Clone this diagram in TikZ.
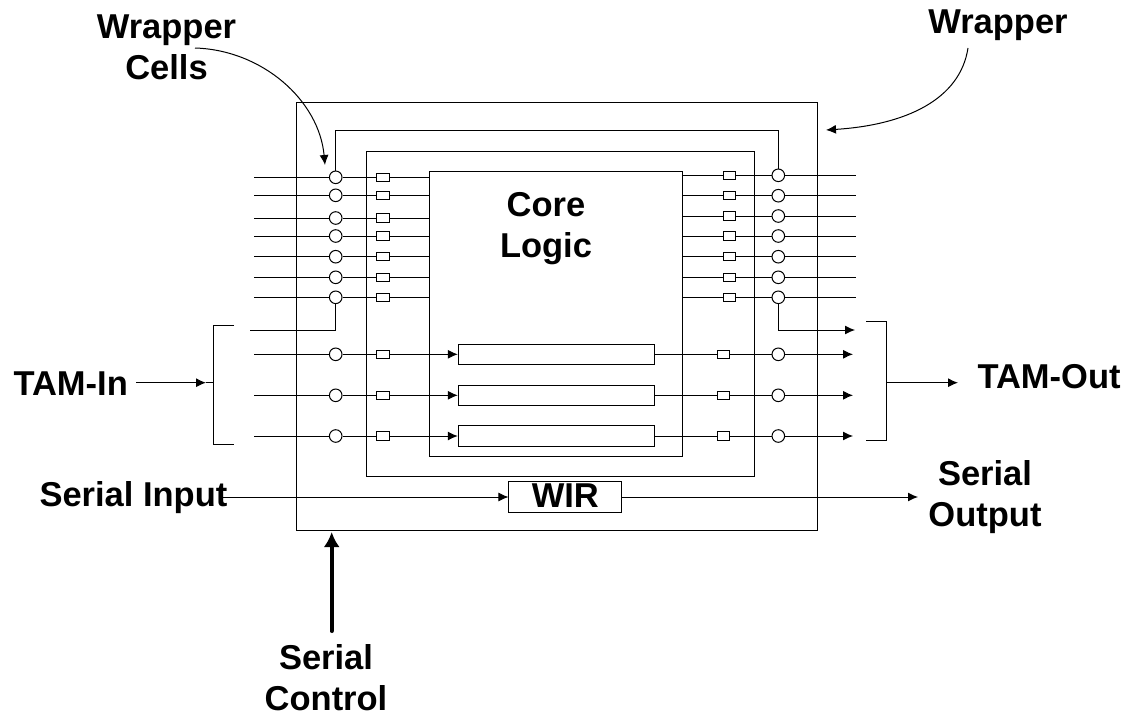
\documentclass[tikz,border=0pt]{standalone}
\usepackage{fontspec}
\setmainfont{Liberation Sans}
\usetikzlibrary{arrows.meta}

\tikzset{
	cellnode/.style={draw,circle,inner sep=0pt,minimum size=12.6pt},
	latchnode/.style={draw,fill=white,inner sep=0pt,minimum width=12.6pt,minimum height=8.4pt},
	blocknode/.style={draw,inner sep=0pt},
	scannode/.style={blocknode,minimum width=196pt,minimum height=20.6pt},
	labelnode/.style={font=\bfseries\fontsize{34.5}{41}\selectfont,inner sep=0pt,align=center},
	sig/.style={-{Latex[length=10pt,width=9pt]}},
}

\begin{document}
\begin{tikzpicture}[x=1pt,y=-1pt,line width=1pt]
	\useasboundingbox (0,0) rectangle (1124,715);
	% nested boxes
	\node[blocknode,minimum width=521pt,minimum height=428pt] at (556.5,316) (wrapper) {};
	\node[blocknode,minimum width=388.7pt,minimum height=325.3pt] at (560.4,313.7) (shell) {};
	\node[blocknode,minimum width=253pt,minimum height=285pt] at (556.2,313.5) (core) {};
	\node[blocknode,minimum width=112.7pt,minimum height=30.6pt] at (565.3,497) (wir) {};
	\coordinate (looptop) at (556,130.3);
	% wrapper cell rows
	\foreach \n/\yl/\yr in {1/177.3/175.3,2/195.3/195.7,3/218/216,4/236/236,5/256.7/256.7,6/277.3/277.3,7/297.3/297.3}{
		\coordinate (inl\n) at (254,\yl);
		\node[cellnode] at (335.7,\yl) (cl\n) {};
		\node[latchnode] at (382.7,\yl) (sl\n) {};
		\node[latchnode] at (729.5,\yr) (sr\n) {};
		\node[cellnode] at (778.3,\yr) (cr\n) {};
		\coordinate (outr\n) at (856,\yr);
		\draw (inl\n) -- (cl\n) -- (sl\n) -- (sl\n -| core.west);
		\draw (sr\n -| core.east) -- (sr\n) -- (cr\n) -- (outr\n);
	}
	% scan chains
	\foreach \n/\y in {8/354.3,9/395.3,10/436}{
		\coordinate (inl\n) at (254,\y);
		\node[cellnode] at (335.7,\y) (cl\n) {};
		\node[latchnode] at (382.7,\y) (sl\n) {};
		\node[scannode] at (556.3,\y) (chain\n) {};
		\node[latchnode] at (723.3,\y) (sr\n) {};
		\node[cellnode] at (778.3,\y) (cr\n) {};
		\coordinate (outr\n) at (853,\y);
		\draw (inl\n) -- (cl\n) -- (sl\n);
		\draw[sig] (sl\n) -- (chain\n.west);
		\draw (chain\n.east) -- (sr\n) -- (cr\n);
		\draw[sig] (cr\n) -- (outr\n);
	}
	% loop over the core
	\draw (cl1) -- (cl1 |- looptop) -- (cr1 |- looptop) -- (cr1);
	\coordinate (tamlin) at (250,330);
	\coordinate (tamrout) at (855,330);
	\draw (tamlin) -| (cl7);
	\draw[sig] (cr7) |- (tamrout);
	% brackets
	\coordinate (brla) at (234,325.7);
	\coordinate (brlb) at (234,444.3);
	\coordinate (brra) at (866,321.7);
	\coordinate (brrb) at (866,440.3);
	\coordinate (brlm) at (213.3,382.7);
	\coordinate (brrm) at (886.7,382.7);
	\draw (brla) -- (brla -| brlm) -- (brlb -| brlm) -- (brlb);
	\draw (brra) -- (brra -| brrm) -- (brrb -| brrm) -- (brrb);
	% labels
	\node[labelnode] at (166.5,47) (cellstext) {Wrapper\\Cells};
	\node[labelnode,anchor=base] at (998,33) (wraptext) {Wrapper};
	\node[labelnode] at (546,229) (coretext) {Core\\Logic};
	\node[labelnode,anchor=base west] at (13,395) (tamin) {TAM-In};
	\node[labelnode,anchor=base west] at (977,388) (tamout) {TAM-Out};
	\node[labelnode,anchor=base west] at (39,506.7) (serin) {Serial Input};
	\node[labelnode] at (985,497) (serout) {Serial\\Output};
	\node[labelnode] at (326,678) (serctl) {Serial\\Control};
	\node[labelnode,anchor=base] at (565.3,507.3) (wirtext) {WIR};
	% external signals
	\coordinate (cellsfrom) at (195,48);
	\coordinate (cellsto) at (325,165);
	\coordinate (wrapfrom) at (968,48);
	\coordinate (wrapto) at (826,130);
	\draw[sig] (cellsfrom) .. controls (262,50) and (319,100) .. (cellsto);
	\draw[sig] (wrapfrom) .. controls (960,100) and (905,125) .. (wrapto);
	\coordinate (tamina) at (136,382.7);
	\coordinate (taminb) at (206,382.7);
	\draw[sig] (tamina) -- (taminb);
	\draw (taminb) -- (brlm);
	\coordinate (tamoutb) at (958,382.7);
	\draw[sig] (brrm) -- (tamoutb);
	\coordinate (serina) at (222,497);
	\draw[sig] (serina) -- (wir.west);
	\coordinate (seroutb) at (918,497);
	\draw[sig] (wir.east) -- (seroutb);
	\coordinate (ctlfrom) at (331.7,631);
	\coordinate (ctlto) at (331.7,532);
	\draw[-{Latex[length=15pt,width=16pt]},line width=4pt,line cap=round] (ctlfrom) -- (ctlto);
\end{tikzpicture}
\end{document}
